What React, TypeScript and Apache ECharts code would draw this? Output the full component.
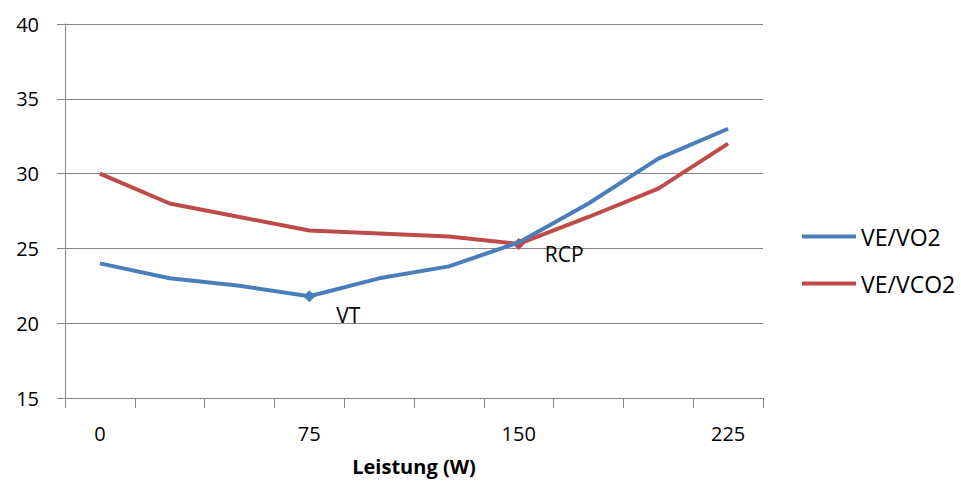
import React, { useEffect, useRef } from "react";
import * as echarts from "echarts";

// Leistung in Watt (Kategorien) und Atemäquivalente
const categories = ["0", "25", "50", "75", "100", "125", "150", "175", "200", "225"];
const veVo2 = [24.0, 23.0, 22.5, 21.8, 23.0, 23.8, 25.4, 28.0, 31.0, 33.0];
const veVco2 = [30.0, 28.0, 27.1, 26.2, 26.0, 25.8, 25.3, 27.1, 29.0, 32.0];
const yTicks = { min: 15, max: 40, interval: 5 };
const vtIndex = 3; // ventilatorische Schwelle
const rcpIndex = 6; // respiratorischer Kompensationspunkt

const BLUE = "#4a7ebb";
const RED = "#be4b48";
const FONT = "'Open Sans', 'Noto Sans', sans-serif";

function withMarker(values: number[], idx: number, text: string, dx: number, dy: number) {
  return values.map((v, i) =>
    i === idx
      ? {
          value: v,
          label: {
            show: true,
            formatter: text,
            position: "right",
            offset: [dx, dy],
            color: "#000",
            fontSize: 21,
            fontFamily: FONT,
          },
        }
      : v
  );
}

export default function App() {
  const ref = useRef<HTMLDivElement>(null);

  useEffect(() => {
    if (!ref.current) return;
    const chart = echarts.init(ref.current, undefined, { renderer: "svg" });
    chart.setOption({
      animation: false,
      textStyle: { fontFamily: FONT },
      grid: { left: 65, right: 198, top: 24, bottom: 83, outerBoundsMode: "none" },
      legend: {
        orient: "vertical",
        left: 797,
        top: 218,
        itemWidth: 54,
        itemHeight: 4,
        itemGap: 20,
        itemTextGap: 3,
        textStyle: { fontSize: 23, color: "#000", lineHeight: 27, fontFamily: FONT },
        data: [
          { name: "VE/VO2", icon: "rect" },
          { name: "VE/VCO2", icon: "rect" },
        ],
      },
      xAxis: {
        type: "category",
        data: categories,
        boundaryGap: true,
        name: "Leistung (W)",
        nameLocation: "middle",
        nameGap: 57,
        nameTextStyle: {
          fontSize: 20,
          lineHeight: 22,
          fontWeight: "bold",
          color: "#000",
          fontFamily: FONT,
        },
        axisLine: { lineStyle: { color: "#868686", width: 1 } },
        axisTick: { show: true, interval: 0, length: 10, lineStyle: { color: "#868686" } },
        axisLabel: { interval: 2, fontSize: 20, color: "#000", margin: 25, fontFamily: FONT },
        splitLine: { show: false },
      },
      yAxis: {
        type: "value",
        min: yTicks.min,
        max: yTicks.max,
        interval: yTicks.interval,
        axisLine: { show: true, lineStyle: { color: "#868686", width: 1 } },
        axisTick: { show: true, length: 8, lineStyle: { color: "#868686" } },
        axisLabel: { fontSize: 20, color: "#000", margin: 26, fontFamily: FONT },
        splitLine: { show: true, lineStyle: { color: "#868686", width: 1 } },
      },
      series: [
        {
          name: "VE/VO2",
          type: "line",
          data: withMarker(veVo2, vtIndex, "VT", 16, 19),
          symbol: "diamond",
          symbolSize: (_v: any, p: any) => (p.dataIndex === vtIndex ? 12 : 0),
          showAllSymbol: true,
          lineStyle: { color: BLUE, width: 4 },
          itemStyle: { color: BLUE },
          emphasis: { disabled: true },
          z: 3,
        },
        {
          name: "VE/VCO2",
          type: "line",
          data: withMarker(veVco2, rcpIndex, "RCP", 15, 10),
          symbol: "diamond",
          symbolSize: (_v: any, p: any) => (p.dataIndex === rcpIndex ? 12 : 0),
          showAllSymbol: true,
          lineStyle: { color: RED, width: 4 },
          itemStyle: { color: RED },
          emphasis: { disabled: true },
          z: 2,
        },
      ],
    });
    return () => chart.dispose();
  }, []);

  return <div ref={ref} style={{ width: 961, height: 481, position: "absolute", left: 0, top: 0 }} />;
}
